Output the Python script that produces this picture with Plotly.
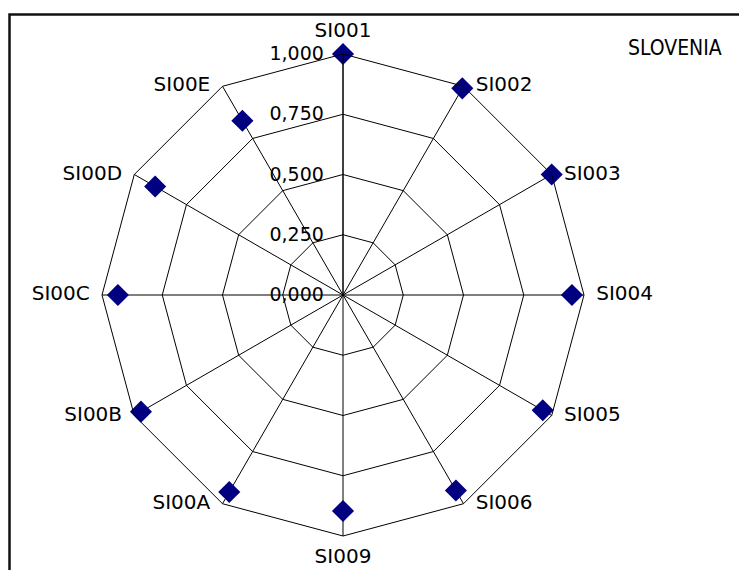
import plotly.graph_objects as go

categories = ["SI001", "SI002", "SI003", "SI004", "SI005", "SI006",
              "SI009", "SI00A", "SI00B", "SI00C", "SI00D", "SI00E"]
values = [1.0, 0.99, 1.0, 0.95, 0.957, 0.937, 0.896, 0.944, 0.968, 0.934, 0.90, 0.835]
radial_ticks = [0.0, 0.25, 0.5, 0.75, 1.0]
title_text = "SLOVENIA"

W, H = 747, 570
OFF = 8  # page body margin offset
cx, cy, R = 343 - OFF, 295 - OFF, 241
RMAX = 1.0

# label placement around the outer ring (style only)
n = len(categories)
label_pos = []
for i in range(n):
    if i == 0:
        label_pos.append("top center")
    elif i < n // 2:
        label_pos.append("middle right")
    elif i == n // 2:
        label_pos.append("bottom center")
    else:
        label_pos.append("middle left")

font = "DejaVu Sans, sans-serif"

fig = go.Figure()
fig.add_trace(go.Scatterpolar(
    r=values, theta=categories, mode="markers",
    marker=dict(symbol="diamond", size=17, color="#000080"),
    showlegend=False, hoverinfo="skip",
))
# category labels at the outer vertices
fig.add_trace(go.Scatterpolar(
    r=[RMAX] * n, theta=categories, mode="markers+text",
    text=categories, textposition=label_pos,
    textfont=dict(size=20, family=font, color="black"),
    marker=dict(size=18, color="rgba(0,0,0,0)"),
    cliponaxis=False, showlegend=False, hoverinfo="skip",
))

fig.update_layout(
    width=W, height=H,
    margin=dict(l=0, r=0, t=0, b=0),
    paper_bgcolor="white", plot_bgcolor="white",
    separators=",.",
    font=dict(family=font, size=20, color="black"),
    polar=dict(
        domain=dict(x=[(cx - R) / W, (cx + R) / W], y=[(H - cy - R) / H, (H - cy + R) / H]),
        bgcolor="white",
        gridshape="linear",
        angularaxis=dict(
            direction="clockwise", rotation=90,
            categoryorder="array", categoryarray=categories,
            showline=True, linecolor="black", linewidth=1,
            gridcolor="black", gridwidth=1,
            ticks="", showticklabels=False,
        ),
        radialaxis=dict(
            range=[0, RMAX], tickvals=radial_ticks, tickformat=".3f",
            angle=90, side="counterclockwise", tickangle=90,
            showline=True, linecolor="black", linewidth=1,
            gridcolor="black", gridwidth=1,
            ticks="outside", ticklen=12, tickcolor="rgba(0,0,0,0)",
            tickfont=dict(size=19, family=font),
        ),
    ),
    annotations=[dict(text=title_text, x=(675 - OFF) / W, y=1 - (48 - OFF) / H, xref="paper", yref="paper",
                      showarrow=False, font=dict(size=21, family="DejaVu Sans Condensed, DejaVu Sans"),
                      xanchor="center", yanchor="middle")],
    shapes=[dict(type="rect", xref="paper", yref="paper", x0=(9.5 - OFF) / W, x1=1.05, y0=-0.05,
                 y1=1 - (14.5 - OFF) / H,
                 line=dict(color="#111111", width=2.5), fillcolor="rgba(0,0,0,0)", layer="above")],
)

fig.write_html("out.html")
